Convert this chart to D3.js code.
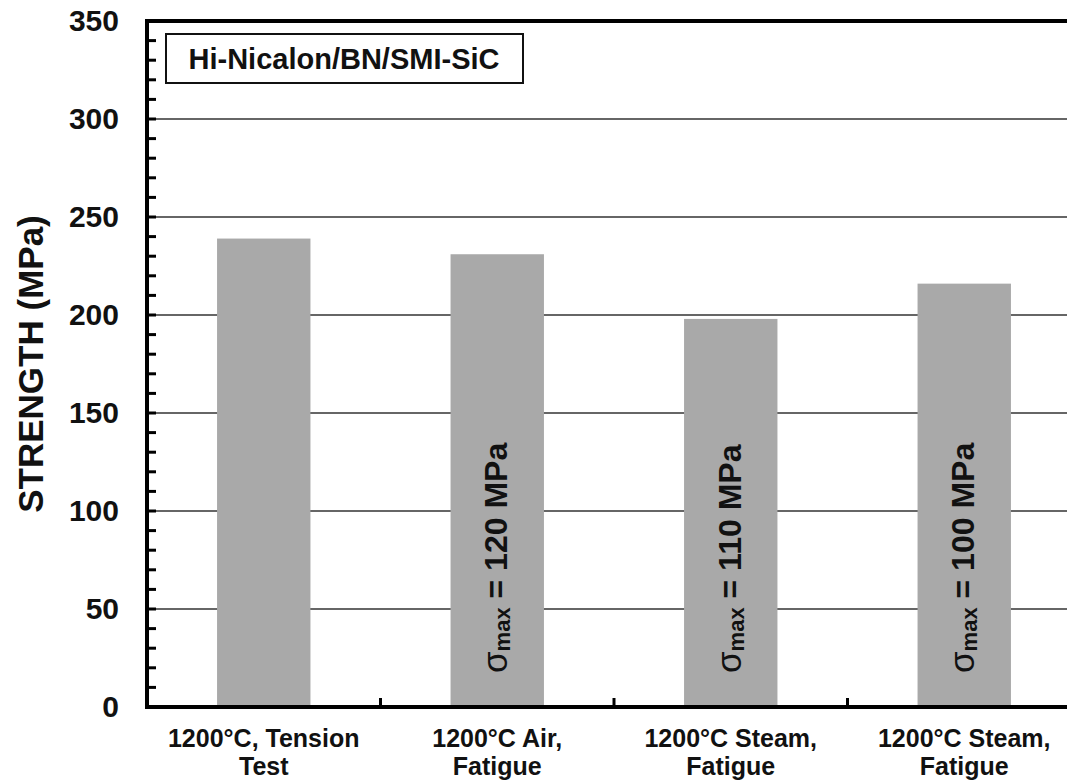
<!DOCTYPE html>
<html>
<head>
<meta charset="utf-8">
<script src="https://cdn.jsdelivr.net/npm/d3@7"></script>
<style>
  html, body { margin: 0; padding: 0; background: #fff; }
  svg { display: block; }
  text { font-family: "Liberation Sans", Arial, sans-serif; font-weight: bold; fill: #111; }
</style>
</head>
<body>
<svg id="chart" width="1067" height="781"></svg>
<script>
// Test conditions (two-line labels) and measured strength in MPa
const categories = [
  ["1200°C, Tension", "Test"],
  ["1200°C Air,", "Fatigue"],
  ["1200°C Steam,", "Fatigue"],
  ["1200°C Steam,", "Fatigue"]
];
const strength = [239, 231, 198, 216];
// Maximum fatigue stress written inside each fatigue bar (null = none)
const sigmaMax = [null, 120, 110, 100];
const yTicks = [0, 50, 100, 150, 200, 250, 300, 350];
const materialLabel = "Hi-Nicalon/BN/SMI-SiC";
const yTitle = "STRENGTH (MPa)";

const svg = d3.select("#chart");
const plotLeft = 147, plotTop = 21, plotBottom = 707;
const band = 233.5;

const x = d3.scaleBand()
  .domain(d3.range(categories.length))
  .range([plotLeft, plotLeft + band * categories.length])
  .paddingInner(0.6).paddingOuter(0.3);

const y = d3.scaleLinear().domain([0, 350]).range([plotBottom, plotTop]);

// horizontal grid lines
svg.append("g").selectAll("line")
  .data(yTicks.filter(v => v > 0 && v < 350))
  .join("line")
  .attr("x1", plotLeft).attr("x2", 1067)
  .attr("y1", d => y(d)).attr("y2", d => y(d))
  .attr("stroke", "#333").attr("stroke-width", 1.6);

// bars
svg.append("g").selectAll("rect")
  .data(strength)
  .join("rect")
  .attr("x", (d, i) => x(i))
  .attr("width", x.bandwidth())
  .attr("y", d => y(d))
  .attr("height", d => y(0) - y(d))
  .attr("fill", "#a9a9a9");

// rotated stress annotations inside fatigue bars
const ann = svg.append("g").selectAll("text")
  .data(sigmaMax.map((s, i) => ({ s, i })).filter(d => d.s !== null))
  .join("text")
  .attr("transform", d => `translate(${x(d.i) + x.bandwidth() / 2 + 10},673) rotate(-90)`)
  .attr("font-size", 32);
ann.append("tspan").attr("font-size", 35).attr("font-weight", "normal").text("σ");
ann.append("tspan").attr("font-size", 22).attr("dy", 3).text("max");
ann.append("tspan").attr("dy", -3).text(d => ` = ${d.s} MPa`);

// top frame line
svg.append("line")
  .attr("x1", plotLeft - 2).attr("x2", 1067)
  .attr("y1", y(350)).attr("y2", y(350))
  .attr("stroke", "#000").attr("stroke-width", 4);

// left axis with minor ticks every 10 MPa
const yAxis = d3.axisLeft(y).tickValues(yTicks).tickSize(0).tickPadding(28)
  .tickFormat(d3.format("d"));
const ya = svg.append("g").attr("transform", `translate(${plotLeft},0)`).call(yAxis);
ya.select(".domain").remove();
ya.selectAll("text").attr("font-size", 30).attr("font-family", "Liberation Sans, Arial, sans-serif")
  .attr("font-weight", "bold").attr("fill", "#111");
svg.append("g").selectAll("line")
  .data(d3.range(10, 350, 10))
  .join("line")
  .attr("x1", plotLeft).attr("x2", plotLeft + 9)
  .attr("y1", d => y(d)).attr("y2", d => y(d))
  .attr("stroke", "#000").attr("stroke-width", 3);
svg.append("line")
  .attr("x1", plotLeft).attr("x2", plotLeft)
  .attr("y1", y(350) - 2).attr("y2", y(0) + 2)
  .attr("stroke", "#000").attr("stroke-width", 4);

// bottom axis with category separators
svg.append("g").selectAll("line")
  .data(d3.range(1, categories.length))
  .join("line")
  .attr("x1", i => plotLeft + band * i).attr("x2", i => plotLeft + band * i)
  .attr("y1", plotBottom).attr("y2", plotBottom - 9)
  .attr("stroke", "#000").attr("stroke-width", 3);
svg.append("line")
  .attr("x1", plotLeft - 2).attr("x2", 1067)
  .attr("y1", plotBottom).attr("y2", plotBottom)
  .attr("stroke", "#000").attr("stroke-width", 4);

// category labels
const cl = svg.append("g").selectAll("text")
  .data(categories)
  .join("text")
  .attr("text-anchor", "middle")
  .attr("font-size", 25);
cl.append("tspan")
  .attr("x", (d, i) => x(i) + x.bandwidth() / 2).attr("y", 747)
  .text(d => d[0]);
cl.append("tspan")
  .attr("x", (d, i) => x(i) + x.bandwidth() / 2).attr("y", 775)
  .text(d => d[1]);

// y-axis title
svg.append("text")
  .attr("transform", `translate(43,${(y(0) + y(350)) / 2}) rotate(-90)`)
  .attr("text-anchor", "middle")
  .attr("font-size", 35)
  .text(yTitle);

// material label box
svg.append("rect")
  .attr("x", 166).attr("y", 34).attr("width", 357).attr("height", 49)
  .attr("fill", "#fff").attr("stroke", "#111").attr("stroke-width", 2);
svg.append("text")
  .attr("x", 344).attr("y", 69)
  .attr("text-anchor", "middle")
  .attr("font-size", 29)
  .text(materialLabel);
</script>
</body>
</html>
